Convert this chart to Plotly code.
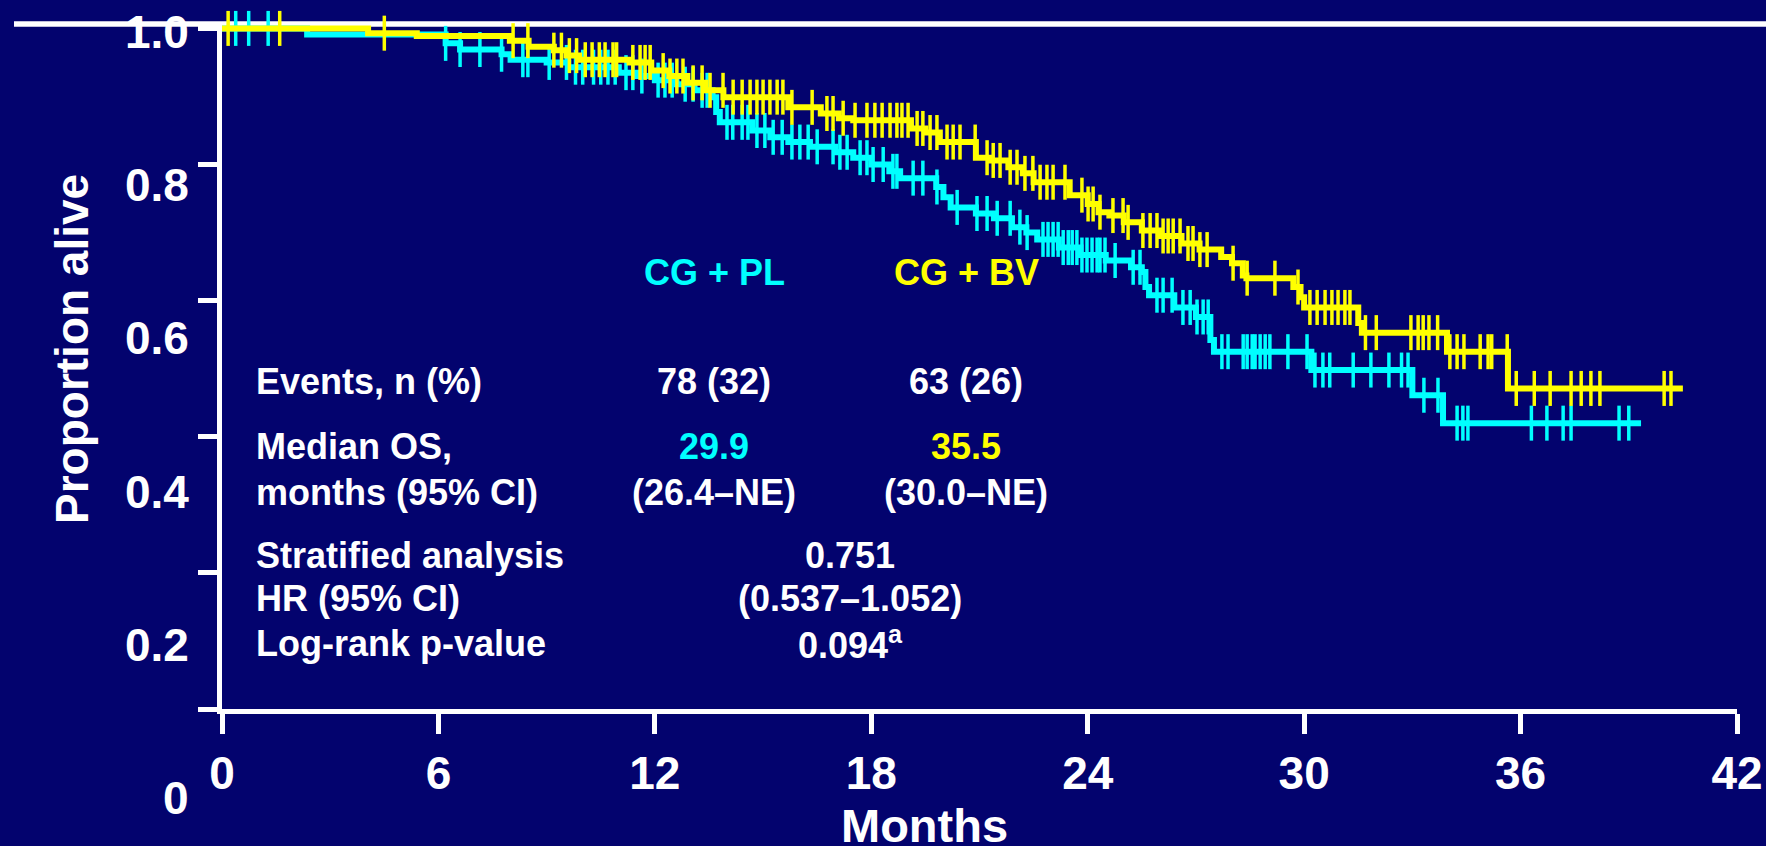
import numpy as np
import plotly.graph_objects as go

# ---------------- data ----------------
# CG + PL (cyan): event times (months) and survival after each step
pl_event_t = [2.36, 6.2, 6.6, 7.75, 8.0, 9.0, 9.6, 11.0, 11.5, 12.0, 12.6, 13.1, 13.6, 13.7, 13.8,
              14.7, 15.2, 15.7, 16.3, 17.0, 17.5, 18.0, 18.5, 18.8, 19.8, 20.0, 20.2, 20.9, 21.4,
              21.9, 22.3, 22.6, 23.2, 23.8, 24.5, 25.2, 25.5, 25.6, 25.7, 26.4, 27.0, 27.4, 27.5,
              30.2, 33.0, 33.85]
pl_event_s = [0.991, 0.978, 0.969, 0.962, 0.954, 0.950, 0.943, 0.935, 0.930, 0.924, 0.918, 0.909,
              0.899, 0.877, 0.862, 0.850, 0.840, 0.833, 0.826, 0.818, 0.810, 0.800, 0.790, 0.780,
              0.767, 0.752, 0.737, 0.728, 0.721, 0.708, 0.700, 0.690, 0.678, 0.667, 0.659, 0.649,
              0.642, 0.620, 0.608, 0.590, 0.576, 0.542, 0.525, 0.498, 0.461, 0.420]
pl_censor_t = [0.38, 0.74, 1.28, 6.2, 6.6, 7.15, 7.75, 8.34, 8.48, 9.07, 9.55, 9.8, 10.0, 10.3, 10.5,
               10.7, 10.9, 11.2, 11.39, 11.64, 12.09, 12.28, 12.48, 12.84, 13.06, 13.31, 13.45, 14.0,
               14.16, 14.42, 14.58, 14.83, 15.05, 15.28, 15.53, 15.8, 16.02, 16.25, 16.5, 16.94,
               17.13, 17.33, 17.69, 17.88, 18.05, 18.33, 18.6, 18.71, 19.16, 19.43, 19.82, 20.38,
               20.93, 21.21, 21.49, 21.85, 22.12, 22.32, 22.76, 22.9, 23.04, 23.18, 23.32, 23.46,
               23.57, 23.7, 23.84, 23.98, 24.12, 24.26, 24.34, 24.48, 24.76, 25.26, 25.45, 25.92,
               26.09, 26.34, 26.64, 26.84, 27.03, 27.2, 27.34, 27.72, 27.89, 28.31, 28.42, 28.56,
               28.64, 28.78, 28.92, 29.05, 29.55, 30.08, 30.3, 30.52, 30.71, 31.36, 31.85, 32.35,
               32.7, 32.88, 33.32, 33.71, 34.24, 34.4, 34.54, 36.3, 36.73, 37.18, 37.4, 38.73, 39.0]
pl_end = 39.34

# CG + BV (yellow)
bv_event_t = [4.05, 5.4, 7.98, 8.5, 9.2, 9.55, 9.9, 11.3, 11.9, 12.4, 12.9, 13.4, 13.9, 15.7, 16.6,
              17.1, 17.5, 19.1, 19.5, 19.9, 20.9, 21.3, 21.8, 22.2, 22.5, 23.5, 24.0, 24.3, 24.6,
              25.0, 25.5, 26.0, 26.6, 27.1, 27.7, 28.0, 28.3, 28.4, 29.7, 29.9, 30.0, 31.5, 31.6,
              33.96, 35.65]
bv_event_s = [0.993, 0.989, 0.982, 0.973, 0.968, 0.960, 0.954, 0.950, 0.938, 0.930, 0.920, 0.909,
              0.899, 0.884, 0.875, 0.868, 0.865, 0.853, 0.847, 0.833, 0.810, 0.806, 0.796, 0.787,
              0.774, 0.755, 0.742, 0.730, 0.725, 0.715, 0.703, 0.695, 0.684, 0.675, 0.664, 0.655,
              0.637, 0.633, 0.620, 0.605, 0.590, 0.567, 0.553, 0.525, 0.471]
bv_censor_t = [0.17, 1.6, 4.5, 8.07, 8.48, 9.2, 9.41, 9.63, 9.83, 10.07, 10.26, 10.46, 10.62, 10.84,
               10.94, 11.39, 11.59, 11.73, 11.87, 12.23, 12.42, 12.61, 12.78, 13.06, 13.31, 13.53,
               13.89, 14.17, 14.42, 14.64, 14.83, 15.0, 15.19, 15.39, 15.55, 15.8, 16.36, 16.77,
               16.94, 17.22, 17.55, 17.88, 18.1, 18.3, 18.52, 18.71, 18.85, 19.02, 19.27, 19.43,
               19.63, 19.82, 20.1, 20.27, 20.46, 20.88, 21.21, 21.38, 21.57, 21.85, 22.04, 22.26,
               22.48, 22.68, 22.87, 23.04, 23.37, 23.84, 24.01, 24.15, 24.34, 24.7, 24.98, 25.12,
               25.53, 25.73, 25.92, 26.09, 26.23, 26.37, 26.56, 26.78, 26.92, 27.11, 27.31, 28.03,
               28.42, 29.19, 29.83, 30.16, 30.36, 30.58, 30.77, 30.94, 31.13, 31.27, 31.7, 32.0,
               32.96, 33.16, 33.3, 33.46, 33.7, 34.04, 34.24, 34.43, 34.88, 35.1, 35.2, 35.63,
               35.88, 36.38, 36.82, 37.4, 37.68, 37.95, 38.2, 39.98, 40.17]
bv_end = 40.5

x_ticks = [0, 6, 12, 18, 24, 30, 36, 42]
y_ticks = [0, 0.2, 0.4, 0.6, 0.8, 1.0]
y_tick_labels = ["1.0", "0.8", "0.6", "0.4", "0.2", "0"]

arms = ["CG + PL", "CG + BV"]
events = ["78 (32)", "63 (26)"]
medians = ["29.9", "35.5"]
median_ci = ["(26.4–NE)", "(30.0–NE)"]
hr_values = ["0.751", "(0.537–1.052)", "0.094<sup>a</sup>"]
row_labels = ["Events, n (%)", "Median OS,", "months (95% CI)",
              "Stratified analysis", "HR (95% CI)", "Log-rank p-value"]

# ---------------- styling ----------------
BG = "#03036e"
CYAN = "#00ffff"
YELLOW = "#ffff00"
WHITE = "#ffffff"
FONT = "Liberation Sans, Arial, sans-serif"

W, H = 1766, 846
L, R, T, B = 222, 29, 24, 137
PW, PH = W - L - R, H - T - B


def px(xp):
    return (xp - L) / PW


def py(yp):
    return (H - B - yp) / PH


def step_arrays(ev_t, ev_s, end):
    xs = [0.0] + list(ev_t) + [end]
    ys = [1.0] + list(ev_s) + [ev_s[-1]]
    return xs, ys


def censor_y(ev_t, ev_s, ct):
    levels = np.array([1.0] + list(ev_s))
    idx = np.searchsorted(np.array(ev_t), np.array(ct), side="right")
    return levels[idx]


fig = go.Figure()
for ev_t, ev_s, ct, end, col, name in [
    (pl_event_t, pl_event_s, pl_censor_t, pl_end, CYAN, arms[0]),
    (bv_event_t, bv_event_s, bv_censor_t, bv_end, YELLOW, arms[1]),
]:
    xs, ys = step_arrays(ev_t, ev_s, end)
    fig.add_trace(go.Scatter(x=xs, y=ys, mode="lines", line=dict(color=col, width=6, shape="hv"),
                             name=name, showlegend=False, hoverinfo="skip"))
    fig.add_trace(go.Scatter(x=ct, y=censor_y(ev_t, ev_s, ct), mode="markers",
                             marker=dict(symbol="line-ns", size=25, line=dict(width=3.5, color=col)),
                             cliponaxis=False, showlegend=False, hoverinfo="skip"))

annotations = []
# y tick labels (offset from ticks as in the original slide)
label_y_pix = [32, 185.2, 338.4, 491.6, 644.8, 798]
for lab, yp in zip(y_tick_labels, label_y_pix):
    annotations.append(dict(x=px(191), y=py(yp), xref="paper", yref="paper", text=f"<b>{lab}</b>",
                            showarrow=False, xanchor="right", yanchor="middle",
                            font=dict(size=46, color=WHITE, family=FONT)))
# axis titles
annotations.append(dict(x=px(72), y=py(349), xref="paper", yref="paper", text="<b>Proportion alive</b>",
                        textangle=-90, showarrow=False, xanchor="center", yanchor="middle",
                        font=dict(size=46, color=WHITE, family=FONT)))
annotations.append(dict(x=px(924), y=py(825), xref="paper", yref="paper", text="<b>Months</b>",
                        showarrow=False, xanchor="center", yanchor="middle",
                        font=dict(size=47, color=WHITE, family=FONT)))


def txt(x, y, s, color=WHITE, anchor="center", size=36):
    annotations.append(dict(x=px(x), y=py(y), xref="paper", yref="paper", text=f"<b>{s}</b>",
                            showarrow=False, xanchor=anchor, yanchor="middle",
                            font=dict(size=size, color=color, family=FONT)))


col_x = [714, 966]
cols = [CYAN, YELLOW]
row_y = [382, 447, 492, 555, 598, 643]
for i in range(2):
    txt(col_x[i], 272, arms[i], cols[i])
    txt(col_x[i], row_y[0], events[i])
    txt(col_x[i], row_y[1], medians[i], cols[i])
    txt(col_x[i], row_y[2], median_ci[i])
for lab, yp in zip(row_labels, row_y):
    txt(254, yp, lab, anchor="left")
for val, yp in zip(hr_values, row_y[3:]):
    txt(850, yp, val)

fig.update_layout(
    width=W, height=H,
    margin=dict(l=L, r=R, t=T, b=B, pad=0),
    paper_bgcolor=BG, plot_bgcolor=BG,
    font=dict(family=FONT, color=WHITE),
    annotations=annotations,
    shapes=[dict(type="line", xref="paper", yref="paper", x0=px(14), x1=px(1766), y0=1.0, y1=1.0,
                 line=dict(color=WHITE, width=5.5), layer="below")],
    xaxis=dict(range=[0, 42], tickvals=x_ticks, ticktext=[f"<b>{v}</b>" for v in x_ticks],
               showline=True, linecolor=WHITE, linewidth=5, ticks="outside", ticklen=20,
               tickwidth=5, tickcolor=WHITE, showgrid=False, zeroline=False,
               tickfont=dict(size=46, color=WHITE, family=FONT), ticklabelstandoff=0,
               automargin=False, fixedrange=True),
    yaxis=dict(range=[0, PH / 680.6], tickvals=y_ticks, showticklabels=False,
               showline=True, linecolor=WHITE, linewidth=5, ticks="outside", ticklen=19,
               tickwidth=5, tickcolor=WHITE, showgrid=False, zeroline=False,
               automargin=False, fixedrange=True),
)

fig.write_html("out.html")
